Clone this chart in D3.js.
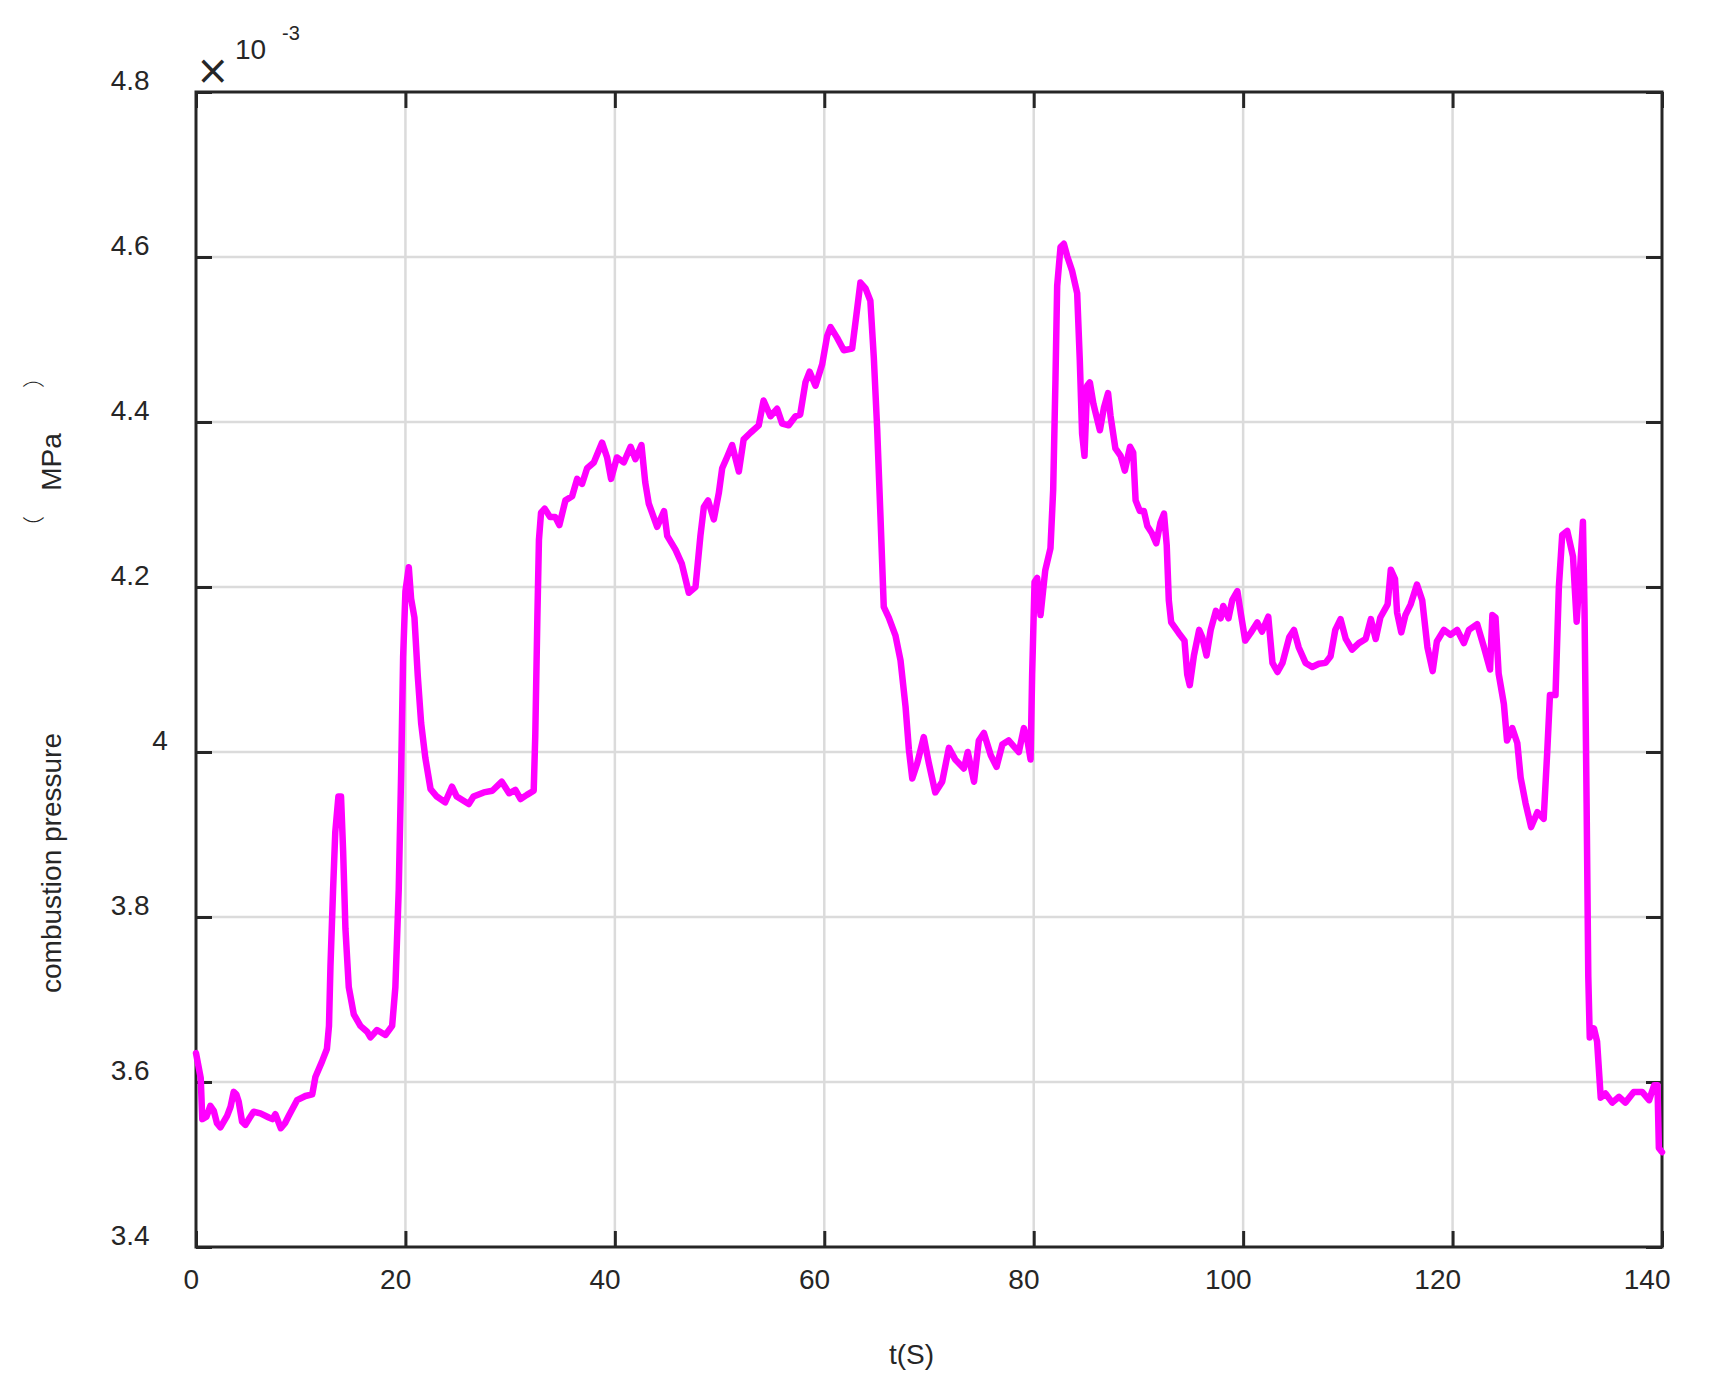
<!DOCTYPE html>
<html>
<head>
<meta charset="utf-8">
<script src="https://cdn.jsdelivr.net/npm/d3@7"></script>
<style>
  html, body { margin: 0; padding: 0; background: #ffffff; }
  svg { display: block; }
  text { font-family: "Liberation Sans", Arial, sans-serif; fill: #262626; }
</style>
</head>
<body>
<svg id="chart" width="1713" height="1391"></svg>
<script>
// ---------------- data ----------------
const xTicks = [0, 20, 40, 60, 80, 100, 120, 140];
const yTicks = [3.4, 3.6, 3.8, 4.0, 4.2, 4.4, 4.6, 4.8];
const yTickLabels = ["3.4", "3.6", "3.8", "4", "4.2", "4.4", "4.6", "4.8"];
const xLabel = "t(S)";
const yLabelMain = "combustion pressure";
const yLabelUnit = "MPa";
const exponentLabel = ["×", "10", "-3"];

// time (s)
const timeS = [
  0, 0.45, 0.6, 1.0, 1.37, 1.7, 2.0, 2.33, 2.97, 3.3, 3.6, 3.85, 4.08, 4.4, 4.72, 5.1, 5.5, 6.15, 6.95, 7.3,
  7.58, 8.1, 8.5, 8.86, 9.65, 10.45, 11.1, 11.4, 12.04, 12.5, 12.7, 12.84, 13.09, 13.3, 13.6, 13.85, 14.05, 14.27, 14.59, 15.07,
  15.7, 16.34, 16.66, 17.29, 18.09, 18.73, 19.04, 19.36, 19.59, 19.78, 20.0, 20.32, 20.54, 20.86, 21.18, 21.5, 21.9, 22.4, 23.0, 23.8,
  24.45, 24.9, 26.05, 26.5, 27.48, 28.3, 29.2, 29.9, 30.5, 31.0, 31.6, 32.25, 32.4, 32.6, 32.75, 32.95, 33.3, 33.8, 34.3, 34.7,
  35.28, 35.92, 36.4, 36.87, 37.35, 37.99, 38.78, 39.26, 39.64, 40.2, 40.85, 41.5, 41.96, 42.54, 42.9, 43.24, 44.04, 44.7, 45.0, 45.8,
  46.4, 47.06, 47.7, 48.17, 48.5, 48.9, 49.45, 49.93, 50.25, 50.7, 51.2, 51.84, 52.3, 52.95, 53.74, 54.2, 54.86, 55.5, 55.98, 56.6,
  57.25, 57.7, 58.2, 58.6, 59.16, 59.8, 60.27, 60.6, 61.23, 61.86, 62.66, 63.07, 63.45, 63.94, 64.4, 64.73, 65.05, 65.37, 65.68, 66.16,
  66.8, 67.28, 67.76, 68.08, 68.4, 68.87, 69.5, 69.99, 70.6, 71.26, 71.9, 72.5, 73.33, 73.7, 74.3, 74.76, 75.24, 75.9, 76.45, 77.0,
  77.6, 78.58, 79.06, 79.4, 79.7, 79.85, 80.08, 80.33, 80.65, 81.1, 81.6, 81.86, 82.08, 82.24, 82.56, 82.88, 83.2, 83.67, 84.15, 84.4,
  84.62, 84.85, 85.1, 85.36, 85.7, 86.32, 86.7, 87.1, 87.33, 87.8, 88.3, 88.7, 89.2, 89.5, 89.73, 90.14, 90.52, 90.85, 91.3, 91.7,
  92.1, 92.44, 92.7, 92.9, 93.13, 93.86, 94.4, 94.66, 94.9, 95.3, 95.8, 96.1, 96.5, 96.9, 97.4, 97.85, 98.1, 98.6, 98.96, 99.45,
  99.8, 100.2, 100.7, 101.35, 101.8, 102.4, 102.8, 103.28, 103.76, 104.4, 104.85, 105.3, 105.96, 106.6, 107.24, 107.87, 108.35, 108.8, 109.3, 109.8,
  110.4, 111.05, 111.7, 112.2, 112.66, 113.1, 113.8, 114.1, 114.5, 114.7, 115.1, 115.5, 116.0, 116.6, 117.1, 117.6, 118.1, 118.5, 119.17, 119.8,
  120.44, 121.08, 121.56, 122.35, 123.0, 123.58, 123.8, 124.1, 124.4, 124.9, 125.2, 125.7, 126.18, 126.5, 126.97, 127.5, 128.1, 128.7, 129.04, 129.3,
  129.83, 130.15, 130.47, 130.95, 131.5, 131.85, 132.2, 132.45, 132.6, 132.8, 132.96, 133.1, 133.5, 133.8, 134.15, 134.6, 135.25, 135.9, 136.5, 137.3,
  138.1, 138.77, 139.25, 139.57, 139.7, 140
];

// combustion pressure (x 10^-3 MPa)
const pressure = [
  3.635, 3.605, 3.555, 3.558, 3.571, 3.565, 3.550, 3.545, 3.559, 3.570, 3.588, 3.585, 3.576, 3.552, 3.548, 3.556, 3.564, 3.562, 3.557, 3.555,
  3.561, 3.544, 3.550, 3.559, 3.578, 3.583, 3.585, 3.606, 3.625, 3.640, 3.668, 3.740, 3.833, 3.903, 3.946, 3.946, 3.880, 3.786, 3.715, 3.682,
  3.668, 3.661, 3.654, 3.663, 3.657, 3.668, 3.715, 3.833, 3.974, 4.115, 4.195, 4.224, 4.186, 4.163, 4.092, 4.035, 3.993, 3.955, 3.946, 3.939,
  3.958, 3.946, 3.937, 3.946, 3.951, 3.953, 3.964, 3.950, 3.954, 3.943, 3.948, 3.953, 4.020, 4.163, 4.257, 4.290, 4.295, 4.285, 4.285, 4.275,
  4.305, 4.310, 4.331, 4.325, 4.344, 4.351, 4.375, 4.357, 4.331, 4.357, 4.351, 4.370, 4.355, 4.372, 4.327, 4.301, 4.273, 4.292, 4.262, 4.245,
  4.228, 4.193, 4.200, 4.262, 4.297, 4.305, 4.282, 4.314, 4.344, 4.357, 4.372, 4.340, 4.379, 4.387, 4.396, 4.426, 4.407, 4.416, 4.398, 4.396,
  4.407, 4.409, 4.448, 4.461, 4.444, 4.470, 4.504, 4.515, 4.502, 4.487, 4.489, 4.530, 4.569, 4.562, 4.547, 4.478, 4.392, 4.284, 4.176, 4.163,
  4.141, 4.111, 4.055, 4.003, 3.968, 3.986, 4.018, 3.986, 3.951, 3.964, 4.005, 3.991, 3.980, 4.000, 3.964, 4.014, 4.023, 3.996, 3.982, 4.009,
  4.014, 4.000, 4.029, 4.014, 3.991, 4.094, 4.206, 4.211, 4.166, 4.220, 4.247, 4.318, 4.453, 4.565, 4.612, 4.616, 4.601, 4.583, 4.556, 4.475,
  4.386, 4.359, 4.444, 4.448, 4.422, 4.390, 4.417, 4.435, 4.408, 4.368, 4.359, 4.341, 4.370, 4.363, 4.305, 4.292, 4.292, 4.274, 4.265, 4.253,
  4.278, 4.289, 4.251, 4.184, 4.157, 4.144, 4.135, 4.094, 4.081, 4.117, 4.148, 4.139, 4.117, 4.148, 4.171, 4.162, 4.177, 4.162, 4.184, 4.195,
  4.166, 4.135, 4.144, 4.157, 4.146, 4.164, 4.108, 4.097, 4.108, 4.139, 4.148, 4.127, 4.108, 4.103, 4.107, 4.108, 4.116, 4.148, 4.161, 4.137,
  4.124, 4.132, 4.137, 4.161, 4.137, 4.163, 4.179, 4.221, 4.210, 4.169, 4.145, 4.166, 4.179, 4.203, 4.184, 4.127, 4.098, 4.134, 4.148, 4.142,
  4.148, 4.132, 4.148, 4.155, 4.127, 4.100, 4.166, 4.163, 4.095, 4.058, 4.014, 4.029, 4.011, 3.969, 3.938, 3.909, 3.927, 3.919, 4.000, 4.069,
  4.069, 4.200, 4.263, 4.268, 4.237, 4.158, 4.226, 4.279, 4.174, 3.938, 3.728, 3.654, 3.665, 3.649, 3.581, 3.586, 3.575, 3.582, 3.575, 3.588,
  3.588, 3.578, 3.596, 3.596, 3.520, 3.515
];

// ---------------- drawing ----------------
const svg = d3.select("#chart");
const plot = { left: 196, right: 1662, top: 92, bottom: 1247 };
const ink = "#262626";

const x = d3.scaleLinear().domain([0, 140]).range([plot.left, plot.right]);
const y = d3.scaleLinear().domain([3.4, 4.8]).range([plot.bottom, plot.top]);

// grid
const grid = svg.append("g").attr("stroke", "#dbdbdb").attr("stroke-width", 2.5);
grid.selectAll("line.gx").data(xTicks.slice(1, -1)).join("line")
  .attr("x1", d => x(d)).attr("x2", d => x(d))
  .attr("y1", plot.top).attr("y2", plot.bottom);
grid.selectAll("line.gy").data(yTicks.slice(1, -1)).join("line")
  .attr("y1", d => y(d)).attr("y2", d => y(d))
  .attr("x1", plot.left).attr("x2", plot.right);

// axes (inward ticks on all four sides)
const tickLen = 16;
function styleAxis(g) {
  g.select(".domain").remove();
  g.selectAll(".tick line").attr("stroke", ink).attr("stroke-width", 3);
}
const gB = svg.append("g").attr("transform", `translate(0,${plot.bottom})`)
  .call(d3.axisBottom(x).tickValues(xTicks).tickSize(-tickLen).tickSizeOuter(0).tickFormat(d3.format("d")));
styleAxis(gB);
gB.selectAll(".tick text")
  .attr("font-size", 28).attr("fill", ink).attr("dy", 0).attr("y", 42)
  .attr("text-anchor", "start")
  .each(function () {
    const w = this.getComputedTextLength();
    d3.select(this).attr("x", -0.83 * w);
  });

const gT = svg.append("g").attr("transform", `translate(0,${plot.top})`)
  .call(d3.axisTop(x).tickValues(xTicks).tickSize(-tickLen).tickSizeOuter(0).tickFormat(""));
styleAxis(gT);

const gL = svg.append("g").attr("transform", `translate(${plot.left},0)`)
  .call(d3.axisLeft(y).tickValues(yTicks).tickSize(-tickLen).tickSizeOuter(0)
    .tickFormat((d, i) => yTickLabels[i]));
styleAxis(gL);
gL.selectAll(".tick text")
  .attr("font-size", 28).attr("fill", ink).attr("dy", 0).attr("y", -3)
  .attr("text-anchor", "end")
  .each(function () {
    const w = this.getComputedTextLength();
    d3.select(this).attr("x", -16 - 0.78 * w);
  });

const gR = svg.append("g").attr("transform", `translate(${plot.right},0)`)
  .call(d3.axisRight(y).tickValues(yTicks).tickSize(-tickLen).tickSizeOuter(0).tickFormat(""));
styleAxis(gR);

// frame
svg.append("rect")
  .attr("x", plot.left).attr("y", plot.top)
  .attr("width", plot.right - plot.left).attr("height", plot.bottom - plot.top)
  .attr("fill", "none").attr("stroke", ink).attr("stroke-width", 3);

// data line
const points = timeS.map((t, i) => [t, pressure[i]]);
svg.append("path")
  .datum(points)
  .attr("fill", "none")
  .attr("stroke", "#ff00ff")
  .attr("stroke-width", 6.5)
  .attr("stroke-linejoin", "round")
  .attr("stroke-linecap", "round")
  .attr("d", d3.line().x(d => x(d[0])).y(d => y(d[1])));

// exponent label
svg.append("text").attr("x", 196).attr("y", 84).attr("font-size", 40)
  .style("font-family", "'DejaVu Sans', sans-serif").text(exponentLabel[0]);
svg.append("text").attr("x", 235).attr("y", 59).attr("font-size", 28).text(exponentLabel[1]);
svg.append("text").attr("x", 282).attr("y", 40).attr("font-size", 20).text(exponentLabel[2]);

// x label
svg.append("text").attr("x", 889).attr("y", 1364).attr("font-size", 28).text(xLabel);

// y label
svg.append("text").attr("transform", "translate(61,863) rotate(-90)")
  .attr("text-anchor", "middle").attr("font-size", 28).text(yLabelMain);
svg.append("text").attr("transform", "translate(61,462) rotate(-90)")
  .attr("text-anchor", "middle").attr("font-size", 28).text(yLabelUnit);
svg.append("text").attr("transform", "translate(41,527) rotate(-90)")
  .attr("text-anchor", "middle").attr("font-size", 22)
  .style("font-family", "'Noto Sans CJK SC', sans-serif").attr("font-weight", 300).text("（");
svg.append("text").attr("transform", "translate(41,377) rotate(-90)")
  .attr("text-anchor", "middle").attr("font-size", 22)
  .style("font-family", "'Noto Sans CJK SC', sans-serif").attr("font-weight", 300).text("）");
</script>
</body>
</html>
